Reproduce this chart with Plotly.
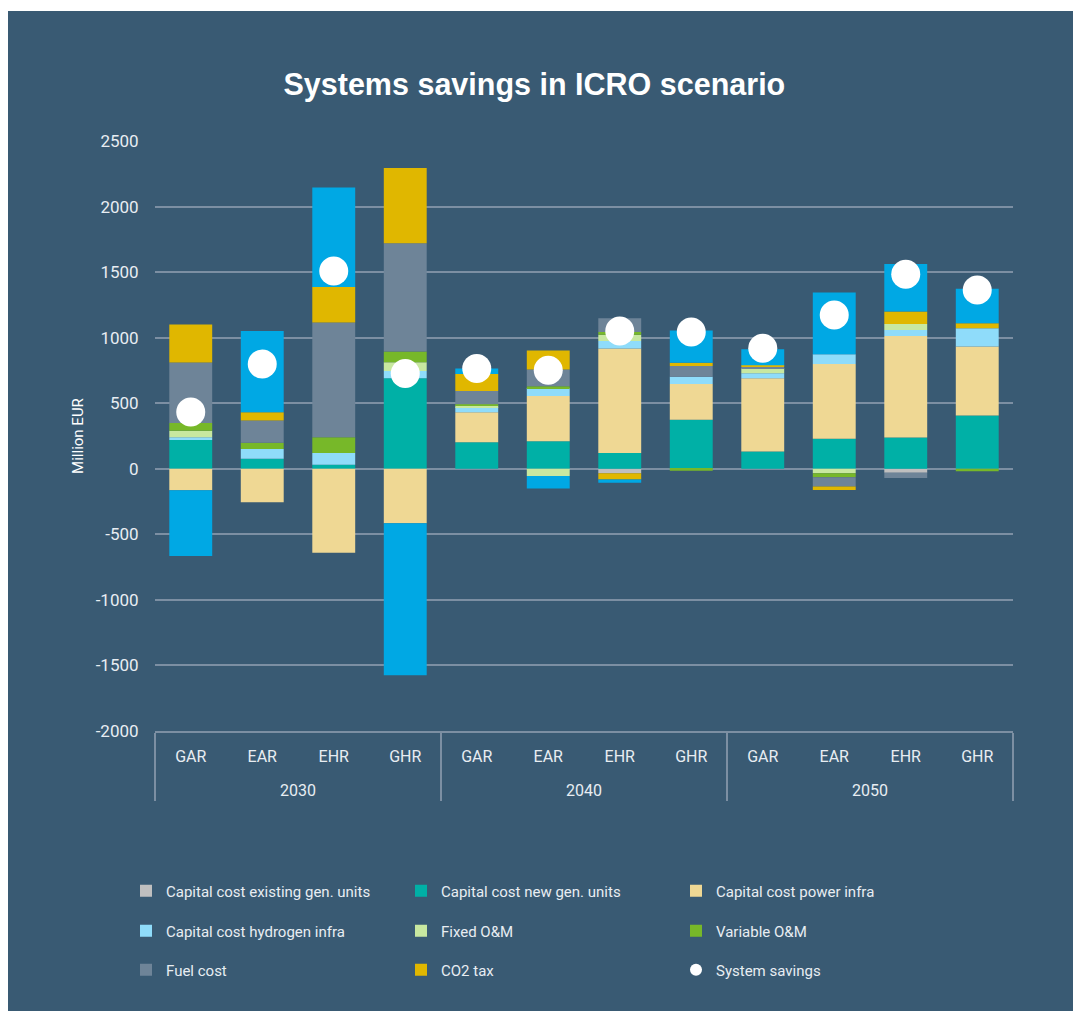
import plotly.graph_objects as go

years = ["2030"] * 4 + ["2040"] * 4 + ["2050"] * 4
scenarios = ["GAR", "EAR", "EHR", "GHR"] * 3

existing_gen = [0, 0, 0, 0, 0, 0, -35, 0, 0, 0, -30, 0]
new_gen = [220, 76, 30, 690, 202, 210, 121, 374, 132, 229, 239, 406]
power_infra = [-164, -256, -641, -415, 230, 346, 796, 272, 559, 571, 774, 526]
hydrogen_infra = [20, 74, 90, 55, 38, 60, 58, 56, 38, 74, 46, 140]
fixed_om = [50, 0, 0, 68, 12, -56, 48, 0, 38, -35, 46, 0]
variable_om = [60, 49, 121, 82, 10, 13, 20, -15, 0, -30, 0, -18]
fuel_cost = [460, 169, 875, 826, 101, 129, 106, 81, 10, -71, -41, 0]
co2_tax = [290, 63, 270, 573, 129, 144, -46, 25, 13, -26, 94, 38]
other_blue = [-502, 620, 759, -1159, 43, -95, -25, 247, 121, 470, 363, 264]
system_savings = [434, 799, 1509, 726, 765, 752, 1050, 1043, 919, 1173, 1483, 1364]

y_ticks = [-2000, -1500, -1000, -500, 0, 500, 1000, 1500, 2000, 2500]
y_ticklabels = ["-2000", "-1500", "-1000", "-500", "0", "500", "1000", "1500", "2000", "2500"]

BG = "#395A73"
GRID = "#7C8FA3"
TXT = "#E8EDF2"
FONT = "Roboto, Liberation Sans, sans-serif"

series = [
    ("Capital cost existing gen. units", existing_gen, "#BFBFBF", "legend"),
    ("Capital cost new gen. units", new_gen, "#00B0A6", "legend"),
    ("Capital cost power infra", power_infra, "#EFD894", "legend"),
    ("Capital cost hydrogen infra", hydrogen_infra, "#8FDCFA", "legend2"),
    ("Fixed O&M", fixed_om, "#C8E8A0", "legend2"),
    ("Variable O&M", variable_om, "#77B829", "legend2"),
    ("Fuel cost", fuel_cost, "#6E8498", "legend3"),
    ("CO2 tax", co2_tax, "#E0B700", "legend3"),
]

# first-level labels get an empty second line to space the year row like the reference
scen_labels = [s + "<br><span style='font-size:24px'> </span>" for s in scenarios]
x = [years, scen_labels]
fig = go.Figure()
for name, vals, color, lg in series:
    fig.add_trace(go.Bar(x=x, y=vals, name=name, marker=dict(color=color, line=dict(width=0)),
                         legend=lg))
fig.add_trace(go.Bar(x=x, y=other_blue, name="Other", marker=dict(color="#00A8E4", line=dict(width=0)),
                     showlegend=False))
fig.add_trace(go.Scatter(x=x, y=system_savings, name="System savings", mode="markers",
                         marker=dict(color="white", size=29, line=dict(width=0)), legend="legend3"))

W, H = 1073, 1011
L, R, T, B = 155, 60, 141, 280
pw, ph = W - L - R, H - T - B

def px(v):
    return (v - L) / pw

def py(v):
    return (H - B - v) / ph

legend_common = dict(orientation="h", font=dict(family=FONT, size=15, color=TXT),
                     bgcolor="rgba(0,0,0,0)", entrywidth=230, entrywidthmode="pixels",
                     xanchor="left", yanchor="middle", x=px(126), itemsizing="constant")

fig.update_layout(
    width=W, height=H,
    margin=dict(l=L, r=R, t=T, b=B),
    paper_bgcolor="white",
    plot_bgcolor=BG,
    barmode="relative",
    bargap=0.4,
    title=dict(text="<b>Systems savings in ICRO scenario</b>", x=0.498, xref="container",
               y=1 - 84 / H, yref="container", xanchor="center", yanchor="middle",
               font=dict(family="Liberation Sans, Arial, sans-serif", size=30.5, color="white")),
    xaxis=dict(type="multicategory", range=[-0.5, 11.5], autorange=False,
               showgrid=False, showline=True, linecolor=GRID, linewidth=2,
               showdividers=True, dividercolor=GRID, dividerwidth=2,
               ticklabelstandoff=10,
               tickfont=dict(family=FONT, size=16, color=TXT)),
    yaxis=dict(range=[-2000, 2500], tickmode="array", tickvals=y_ticks, ticktext=y_ticklabels,
               gridcolor=GRID, gridwidth=2,
               zeroline=False, showline=False, ticks="outside", ticklen=12,
               tickcolor="rgba(0,0,0,0)",
               tickfont=dict(family=FONT, size=17, color=TXT),
               title=dict(text="Million EUR", standoff=8,
                          font=dict(family=FONT, size=15, color="white"))),
    legend=dict(y=py(891), **legend_common),
    legend2=dict(y=py(931), **legend_common),
    legend3=dict(y=py(970), **legend_common),
    shapes=[dict(type="rect", xref="paper", yref="paper", x0=px(8), x1=px(1080),
                 y0=py(1020), y1=py(11), fillcolor=BG, line=dict(width=0), layer="below")],
)

fig.write_html("out.html")
